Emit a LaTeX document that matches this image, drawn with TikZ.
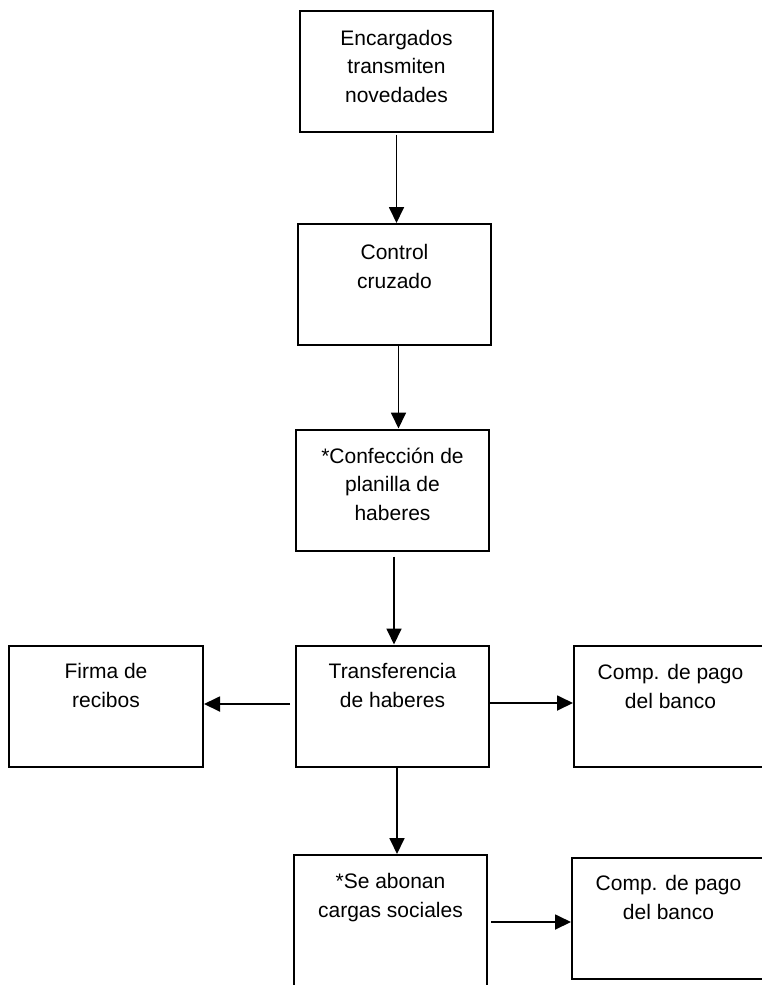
\documentclass[tikz,border=0pt]{standalone}
\usepackage{fontspec}
\setmainfont{Liberation Sans}
\usetikzlibrary{arrows.meta,calc}

\begin{document}
\begin{tikzpicture}[x=1pt,y=-1pt,
  caja/.style={draw, line width=2pt, minimum width=193pt, minimum height=121pt, inner sep=0pt},
  texto/.style={align=center, anchor=base, inner sep=0pt, font=\fontsize{21}{28.5}\selectfont},
  flecha/.style={line width=1.8pt, -{Triangle[length=16pt,width=15pt]}}]
\useasboundingbox (0,0) rectangle (761,985);
% cajas
\node[caja] (enc) at (396.5,71) {};
\node[caja] (ctl) at (394.5,284.5) {};
\node[caja] (conf) at (392.5,490) {};
\node[caja] (transf) at (392.5,706) {};
\node[caja, minimum width=194pt] (firma) at (106,706) {};
\node[caja] (pago) at (670.5,706) {};
\node[caja, minimum height=140pt] (cargas) at (390.5,925) {};
\node[caja] (pagob) at (668.5,918) {};
% textos (base = ultima linea)
\node[texto] (enc-t) at (396.5,102) {Encargados\\transmiten\\novedades};
\node[texto] (ctl-t) at (394.5,288) {Control\\cruzado};
\node[texto] (conf-t) at (392.5,520) {*Confección de\\planilla de\\haberes};
\node[texto] (transf-t) at (392.5,707) {Transferencia\\de haberes};
\node[texto] (firma-t) at (106,707) {Firma de\\recibos};
\node[texto] (pago-t) at (670.5,708) {Comp. de pago\\del banco};
\node[texto] (cargas-t) at (390.5,917) {*Se abonan\\cargas sociales};
\node[texto] (pagob-t) at (668.5,919) {Comp. de pago\\del banco};
% flechas
\draw[flecha] ($(enc.south)+(0,2)$) -- (enc.south |- ctl.north);
\draw[flecha] ($(ctl.south)+(4,0)$) -- ($(conf.north)+(6,0)$);
\draw[flecha] ($(conf.south)+(1.5,5)$) -- ($(transf.north)+(1.5,0)$);
\draw[flecha] ($(transf.south)+(4.5,0)$) -- ($(cargas.north)+(6.5,0)$);
\draw[flecha] ($(transf.west)+(-5,-2)$) -- ($(firma.east)+(0,-2)$);
\draw[flecha] ($(transf.east)+(0,-3)$) -- ($(pago.west)+(0,-3)$);
\draw[flecha] ($(cargas.east)+(3,-3)$) -- ($(pagob.west)+(0,4)$);
\end{tikzpicture}
\end{document}
